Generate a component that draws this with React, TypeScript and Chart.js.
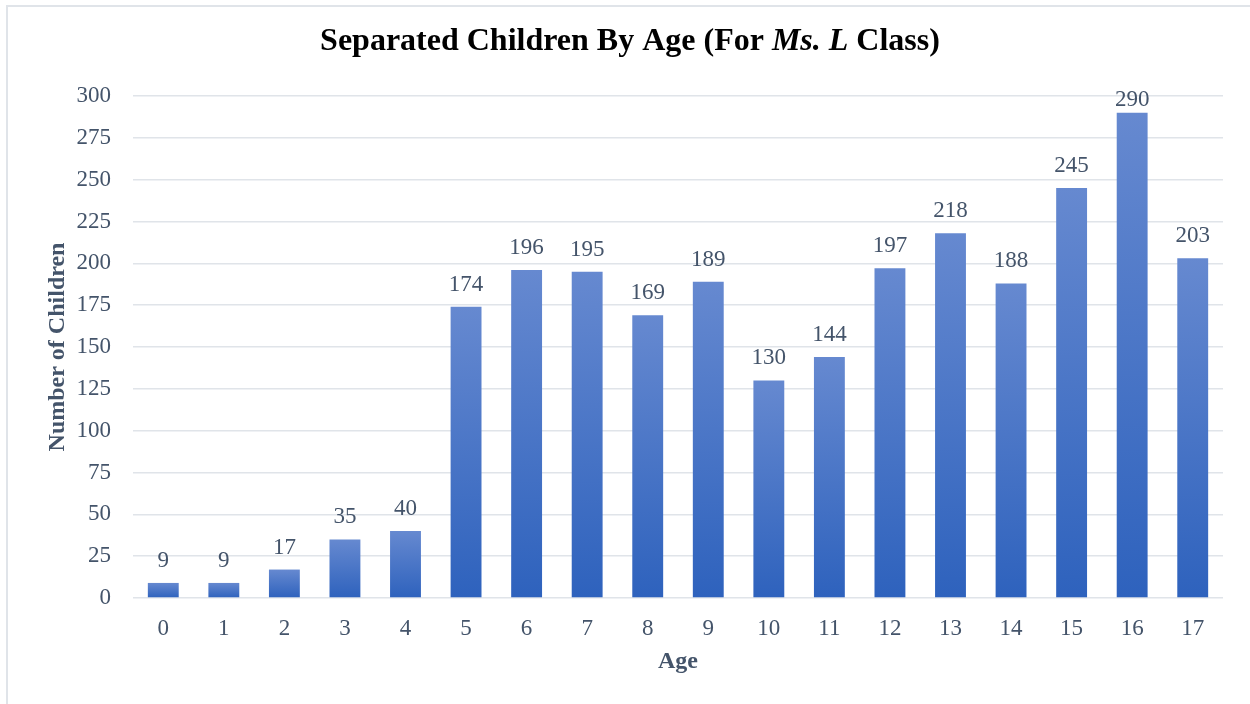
import React, { useEffect, useRef } from "react";
import { Chart, registerables } from "chart.js";

Chart.register(...registerables);

const ages = ["0","1","2","3","4","5","6","7","8","9","10","11","12","13","14","15","16","17"];
const children = [9, 9, 17, 35, 40, 174, 196, 195, 169, 189, 130, 144, 197, 218, 188, 245, 290, 203];
const titleParts = [
  { text: "Separated Children By Age (For ", italic: false },
  { text: "Ms. L", italic: true },
  { text: " Class)", italic: false },
];
const xTitle = "Age";
const yTitle = "Number of Children";

const FONT = "'Liberation Serif', 'Times New Roman', serif";
const TEXT = "#44546a";

const decorPlugin = {
  id: "decor",
  beforeDraw(chart: any) {
    const c = chart.ctx;
    c.save();
    c.fillStyle = "#ffffff";
    c.fillRect(0, 0, chart.width, chart.height);
    c.fillStyle = "#e0e4e9";
    c.fillRect(6, 5, chart.width - 6, 2);
    c.fillRect(6, 5, 2, chart.height - 5);
    c.restore();
  },
  afterDraw(chart: any) {
    const c = chart.ctx;
    const area = chart.chartArea;
    c.save();
    // title
    const size = 32;
    const fonts = titleParts.map((p) => `${p.italic ? "italic " : ""}bold ${size}px ${FONT}`);
    let total = 0;
    const widths = titleParts.map((p, i) => {
      c.font = fonts[i];
      const w = c.measureText(p.text).width;
      total += w;
      return w;
    });
    let x = 630 - total / 2;
    c.fillStyle = "#000000";
    c.textBaseline = "alphabetic";
    c.textAlign = "left";
    titleParts.forEach((p, i) => {
      c.font = fonts[i];
      c.fillText(p.text, x, 50);
      x += widths[i];
    });
    // axis titles
    c.fillStyle = TEXT;
    c.font = `bold 24px ${FONT}`;
    c.textAlign = "center";
    c.fillText(xTitle, (area.left + area.right) / 2, 668);
    c.save();
    c.translate(64, (area.top + area.bottom) / 2);
    c.rotate(-Math.PI / 2);
    c.fillText(yTitle, 0, 0);
    c.restore();
    // data labels
    const meta = chart.getDatasetMeta(0);
    c.font = `23px ${FONT}`;
    c.fillStyle = TEXT;
    c.textAlign = "center";
    c.textBaseline = "alphabetic";
    meta.data.forEach((el: any, i: number) => {
      const yb = Math.max(el.y - 16, 106);
      c.fillText(String(children[i]), el.x, yb);
    });
    c.restore();
  },
};

export default function App() {
  const ref = useRef<HTMLCanvasElement>(null);
  useEffect(() => {
    const canvas = ref.current;
    if (!canvas) return;
    const chart = new Chart(canvas, {
      type: "bar",
      data: {
        labels: ages,
        datasets: [
          {
            data: children,
            barPercentage: 0.51,
            categoryPercentage: 1,
            backgroundColor: (ctx: any) => {
              const ch = ctx.chart;
              if (!ch.chartArea || ctx.type !== "data") return "#4472c4";
              const ys = ch.scales.y;
              const v = ctx.raw as number;
              const top = ys.getPixelForValue(v);
              const bottom = ys.getPixelForValue(0);
              const g = ch.ctx.createLinearGradient(0, top, 0, bottom);
              g.addColorStop(0, "#6689d0");
              g.addColorStop(1, "#2e62bd");
              return g;
            },
          },
        ],
      },
      options: {
        responsive: false,
        animation: false,
        layout: { padding: { top: 96, right: 27, left: 0, bottom: 0 } },
        plugins: {
          legend: { display: false },
          title: { display: false },
          tooltip: { enabled: false },
        },
        scales: {
          x: {
            grid: { display: false, drawTicks: false },
            border: { display: false },
            ticks: { color: TEXT, font: { family: FONT, size: 23 }, padding: 17 },
            afterFit: (s: any) => { s.height = 106; },
          },
          y: {
            min: 0,
            max: 300,
            grid: { color: "#e0e4e9", lineWidth: 1.5, drawTicks: false },
            border: { display: false },
            ticks: { stepSize: 25, color: TEXT, font: { family: FONT, size: 23 }, padding: 22 },
            afterFit: (s: any) => { s.width = 133; },
          },
        },
      },
      plugins: [decorPlugin],
    } as any);
    return () => chart.destroy();
  }, []);
  return (
    <div style={{ position: "absolute", left: 0, top: 0, width: 1250, height: 704 }}>
      <canvas ref={ref} width={1250} height={704} />
    </div>
  );
}
